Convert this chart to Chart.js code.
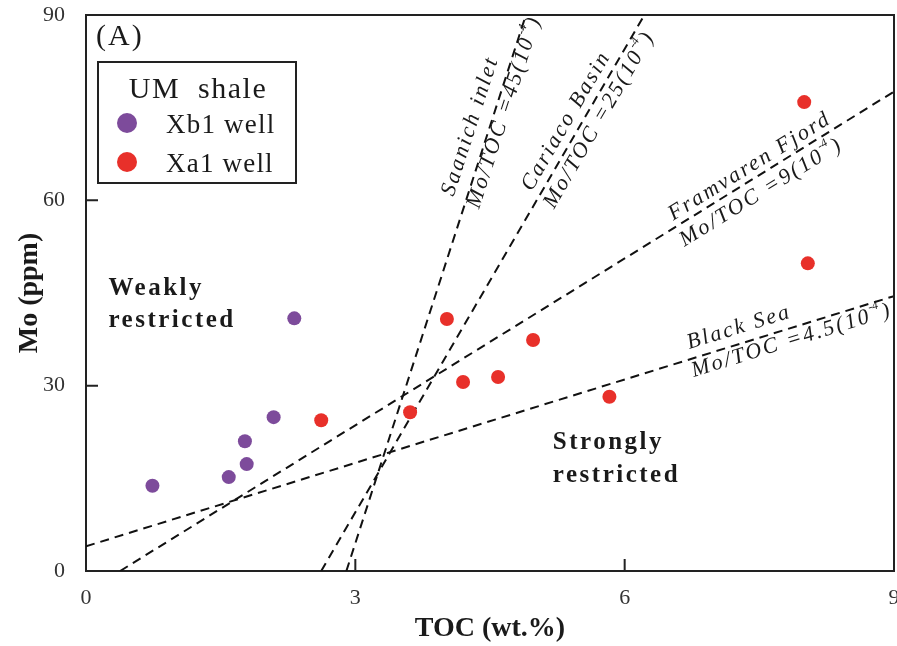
<!DOCTYPE html>
<html>
<head>
<meta charset="utf-8">
<script src="https://cdn.jsdelivr.net/npm/chart.js@4.4.1/dist/chart.umd.min.js"></script>
<style>
html, body { margin: 0; padding: 0; background: #fff; overflow: hidden; }
canvas { display: block; }
</style>
</head>
<body>
<canvas id="mo" width="901" height="646"></canvas>
<script>
// UM shale samples
var xb1Toc = [0.74, 1.59, 1.79, 1.77, 2.09, 2.32];
var xb1Mo = [13.8, 15.2, 17.3, 21.0, 24.9, 40.9];
var xa1Toc = [2.62, 3.61, 4.02, 4.20, 4.59, 4.98, 5.83, 8.00, 8.04];
var xa1Mo = [24.4, 25.7, 40.8, 30.6, 31.4, 37.4, 28.2, 75.9, 49.8];

var xTicks = [0, 3, 6, 9];
var yTicks = [0, 30, 60, 90];

// reference basins (end points)
var lineNames = ['Saanich inlet', 'Cariaco Basin', 'Framvaren Fjord', 'Black Sea'];
var lineRatios = ['45', '25', '9', '4.5'];
var lineToc = [[2.90, 4.90], [2.62, 6.22], [0.38, 9], [0, 9]];
var lineMo = [[0, 90], [0, 90], [0, 77.6], [4.0, 44.5]];
var labelToc = [4.18, 5.02, 6.52, 6.66];
var labelMo = [58.6, 59.2, 54.4, 33.8];

var SERIF = '"Liberation Serif", "Times New Roman", serif';

function pts(xs, ys) {
    return xs.map(function (v, i) { return { x: v, y: ys[i] }; });
}

var datasets = [
    { label: 'Xb1 well', data: pts(xb1Toc, xb1Mo), backgroundColor: '#7d4b9b', borderWidth: 0, pointRadius: 7 },
    { label: 'Xa1 well', data: pts(xa1Toc, xa1Mo), backgroundColor: '#e8302a', borderWidth: 0, pointRadius: 7 }
];
lineNames.forEach(function (n, i) {
    datasets.push({
        label: n,
        data: pts(lineToc[i], lineMo[i]),
        showLine: true,
        borderColor: '#111',
        borderWidth: 2,
        borderDash: [9, 6],
        pointRadius: 0,
        fill: false
    });
});

function ratioText(ctx, ratio) {
    // Mo/TOC =45(10^-4)
    var main = 'Mo/TOC =' + ratio + '(10';
    ctx.font = 'italic 22px ' + SERIF;
    ctx.letterSpacing = '2.3px';
    ctx.fillText(main, 0, 0);
    var w = ctx.measureText(main).width;
    ctx.font = 'italic 12px ' + SERIF;
    ctx.letterSpacing = '0px';
    ctx.fillText('-4', w, -11);
    var w2 = ctx.measureText('-4').width;
    ctx.font = 'italic 22px ' + SERIF;
    ctx.letterSpacing = '2.3px';
    ctx.fillText(')', w + w2 + 2, 0);
}

var extras = {
    id: 'extras',
    afterDraw: function (chart) {
        var ctx = chart.ctx, a = chart.chartArea;
        var xs = chart.scales.x, ys = chart.scales.y;
        ctx.save();
        ctx.strokeStyle = '#222';
        ctx.lineWidth = 2;
        // frame top/right
        ctx.beginPath();
        ctx.moveTo(a.left, a.top);
        ctx.lineTo(a.right, a.top);
        ctx.lineTo(a.right, a.bottom);
        ctx.stroke();
        // inward ticks
        ctx.beginPath();
        xTicks.slice(1, -1).forEach(function (t) {
            var p = xs.getPixelForValue(t);
            ctx.moveTo(p, a.bottom);
            ctx.lineTo(p, a.bottom - 12);
        });
        yTicks.slice(1, -1).forEach(function (t) {
            var p = ys.getPixelForValue(t);
            ctx.moveTo(a.left, p);
            ctx.lineTo(a.left + 12, p);
        });
        ctx.stroke();

        ctx.fillStyle = '#1a1a1a';
        ctx.textBaseline = 'alphabetic';
        ctx.textAlign = 'left';

        // line labels
        lineNames.forEach(function (n, i) {
            var x1 = xs.getPixelForValue(lineToc[i][0]), y1 = ys.getPixelForValue(lineMo[i][0]);
            var x2 = xs.getPixelForValue(lineToc[i][1]), y2 = ys.getPixelForValue(lineMo[i][1]);
            var ang = Math.atan2(y2 - y1, x2 - x1);
            ctx.save();
            ctx.translate(xs.getPixelForValue(labelToc[i]), ys.getPixelForValue(labelMo[i]));
            ctx.rotate(ang);
            ctx.font = 'italic 22px ' + SERIF;
            ctx.letterSpacing = '2.3px';
            ctx.fillText(n, 9, -11);
            ctx.translate(5, 17);
            ratioText(ctx, lineRatios[i]);
            ctx.restore();
        });

        // panel tag
        ctx.letterSpacing = '2px';
        ctx.font = '30px ' + SERIF;
        ctx.fillText('(A)', 96, 45);

        // region notes
        ctx.font = 'bold 25px ' + SERIF;
        ctx.letterSpacing = '2.5px';
        ctx.fillText('Weakly', xs.getPixelForValue(0.25), ys.getPixelForValue(44.6));
        ctx.fillText('restricted', xs.getPixelForValue(0.25), ys.getPixelForValue(39.5));
        ctx.fillText('Strongly', xs.getPixelForValue(5.2), ys.getPixelForValue(19.7));
        ctx.fillText('restricted', xs.getPixelForValue(5.2), ys.getPixelForValue(14.4));

        // legend
        ctx.letterSpacing = '0px';
        ctx.lineWidth = 2;
        ctx.strokeRect(98, 62, 198, 121);
        ctx.textAlign = 'center';
        ctx.font = '30px ' + SERIF;
        ctx.letterSpacing = '1.5px';
        ctx.fillText('UM  shale', 198, 98);
        ctx.textAlign = 'left';
        ctx.font = '27px ' + SERIF;
        ctx.letterSpacing = '1.2px';
        [datasets[0], datasets[1]].forEach(function (d, i) {
            var cy = 123 + i * 39;
            ctx.fillStyle = d.backgroundColor;
            ctx.beginPath();
            ctx.arc(127, cy, 10, 0, Math.PI * 2);
            ctx.fill();
            ctx.fillStyle = '#1a1a1a';
            ctx.fillText(d.label, 166, cy + 10);
        });
        ctx.restore();
    }
};

new Chart(document.getElementById('mo').getContext('2d'), {
    type: 'scatter',
    data: { datasets: datasets },
    options: {
        responsive: false,
        animation: false,
        layout: { padding: { top: 15, right: 0, left: 0, bottom: 0 } },
        plugins: { legend: { display: false }, tooltip: { enabled: false } },
        scales: {
            x: {
                type: 'linear', min: 0, max: 9,
                afterBuildTicks: function (s) { s.ticks = xTicks.map(function (v) { return { value: v }; }); },
                afterFit: function (s) { s.height = 75; s.paddingLeft = 0; s.paddingRight = 0; },
                grid: { display: false },
                border: { display: true, color: '#222', width: 2 },
                ticks: { font: { family: SERIF, size: 22 }, color: '#333', padding: 6, maxRotation: 0 },
                title: { display: true, text: 'TOC (wt.%)', color: '#1a1a1a', font: { family: SERIF, size: 28, weight: 'bold' }, padding: { top: 6, bottom: 0 } }
            },
            y: {
                type: 'linear', min: 0, max: 90,
                afterBuildTicks: function (s) { s.ticks = yTicks.map(function (v) { return { value: v }; }); },
                afterFit: function (s) { s.width = 86; s.paddingTop = 0; s.paddingBottom = 0; },
                grid: { display: false },
                border: { display: true, color: '#222', width: 2 },
                ticks: { font: { family: SERIF, size: 22 }, color: '#333', padding: 13 },
                title: { display: true, text: 'Mo (ppm)', color: '#1a1a1a', font: { family: SERIF, size: 28, weight: 'bold' }, padding: { top: 13, bottom: 0 } }
            }
        }
    },
    plugins: [extras]
});
</script>
</body>
</html>
